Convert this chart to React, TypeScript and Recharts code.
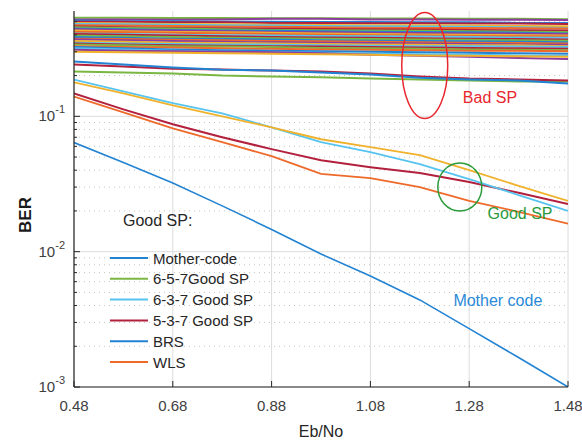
import React from 'react';
import {
  LineChart,
  Line,
  XAxis,
  YAxis,
  CartesianGrid,
  ReferenceLine,
  ReferenceDot,
  Legend,
} from 'recharts';

// ---------- data ----------
const ebNo = [0.48, 0.58, 0.68, 0.78, 0.88, 0.98, 1.08, 1.18, 1.28, 1.38, 1.48];
const xTicks = [0.48, 0.68, 0.88, 1.08, 1.28, 1.48];
const yMajorTicks = [0.001, 0.01, 0.1];
const yMinorTicks = [
  0.002, 0.003, 0.004, 0.005, 0.006, 0.007, 0.008, 0.009,
  0.02, 0.03, 0.04, 0.05, 0.06, 0.07, 0.08, 0.09,
  0.2, 0.3, 0.4, 0.5,
];

const motherCode = [0.064, 0.0455, 0.0322, 0.0218, 0.0146, 0.0096, 0.0066, 0.0044, 0.0027, 0.00165, 0.001];
const goodSp637 = [0.187, 0.153, 0.125, 0.105, 0.083, 0.0644, 0.0543, 0.0443, 0.0344, 0.0262, 0.02];
const goodSpYellow = [0.178, 0.1475, 0.1205, 0.1, 0.083, 0.0677, 0.0591, 0.0516, 0.0401, 0.0306, 0.0237];
const goodSp537 = [0.1475, 0.1125, 0.0873, 0.0701, 0.0572, 0.0474, 0.0421, 0.0381, 0.0327, 0.0272, 0.0225];
const wls = [0.14, 0.107, 0.0816, 0.0644, 0.0508, 0.0375, 0.035, 0.03, 0.0237, 0.0197, 0.0161];

const brs = [0.254, 0.241, 0.229, 0.221, 0.218, 0.211, 0.204, 0.193, 0.187, 0.184, 0.175];
const lowBandRed = [0.241, 0.233, 0.225, 0.222, 0.218, 0.214, 0.207, 0.197, 0.19, 0.187, 0.184];
const goodSp657 = [0.214, 0.211, 0.207, 0.2, 0.197, 0.194, 0.19, 0.187, 0.184, 0.181, 0.181];

const badSpCurves = [
  [0.535, 0.535, 0.533, 0.533, 0.53, 0.53, 0.528, 0.528, 0.525, 0.525, 0.522],
  [0.52, 0.52, 0.518, 0.52, 0.525, 0.525, 0.52, 0.52, 0.518, 0.518, 0.515],
  [0.51, 0.505, 0.505, 0.5, 0.5, 0.498, 0.498, 0.495, 0.495, 0.49, 0.49],
  [0.5, 0.5, 0.495, 0.495, 0.49, 0.49, 0.488, 0.488, 0.485, 0.485, 0.48],
  [0.49, 0.485, 0.48, 0.478, 0.475, 0.472, 0.47, 0.47, 0.468, 0.465, 0.462],
  [0.48, 0.478, 0.475, 0.47, 0.468, 0.465, 0.462, 0.46, 0.458, 0.455, 0.45],
  [0.47, 0.468, 0.465, 0.46, 0.458, 0.455, 0.452, 0.45, 0.45, 0.448, 0.445],
  [0.46, 0.455, 0.45, 0.448, 0.445, 0.442, 0.44, 0.438, 0.435, 0.432, 0.43],
  [0.455, 0.45, 0.445, 0.44, 0.435, 0.432, 0.43, 0.428, 0.425, 0.422, 0.42],
  [0.445, 0.44, 0.435, 0.43, 0.428, 0.425, 0.422, 0.42, 0.418, 0.415, 0.41],
  [0.44, 0.435, 0.43, 0.425, 0.42, 0.418, 0.415, 0.412, 0.41, 0.408, 0.405],
  [0.43, 0.425, 0.42, 0.418, 0.415, 0.41, 0.405, 0.402, 0.4, 0.398, 0.395],
  [0.42, 0.418, 0.415, 0.41, 0.405, 0.4, 0.398, 0.395, 0.392, 0.39, 0.388],
  [0.41, 0.405, 0.4, 0.398, 0.395, 0.392, 0.39, 0.388, 0.385, 0.382, 0.38],
  [0.405, 0.4, 0.395, 0.39, 0.385, 0.382, 0.38, 0.378, 0.375, 0.372, 0.37],
  [0.395, 0.39, 0.385, 0.38, 0.378, 0.375, 0.372, 0.37, 0.368, 0.365, 0.362],
  [0.385, 0.38, 0.375, 0.372, 0.37, 0.365, 0.362, 0.36, 0.358, 0.355, 0.352],
  [0.375, 0.372, 0.368, 0.365, 0.36, 0.358, 0.355, 0.352, 0.35, 0.348, 0.345],
  [0.37, 0.365, 0.36, 0.355, 0.352, 0.35, 0.348, 0.345, 0.342, 0.34, 0.338],
  [0.36, 0.355, 0.35, 0.348, 0.345, 0.342, 0.34, 0.338, 0.335, 0.335, 0.33],
  [0.35, 0.345, 0.342, 0.34, 0.338, 0.335, 0.332, 0.33, 0.33, 0.328, 0.325],
  [0.345, 0.34, 0.335, 0.332, 0.33, 0.328, 0.325, 0.322, 0.32, 0.318, 0.315],
  [0.34, 0.335, 0.33, 0.328, 0.325, 0.32, 0.318, 0.315, 0.312, 0.31, 0.308],
  [0.33, 0.325, 0.322, 0.318, 0.315, 0.312, 0.31, 0.308, 0.305, 0.305, 0.302],
  [0.325, 0.318, 0.312, 0.308, 0.305, 0.302, 0.3, 0.298, 0.295, 0.292, 0.29],
  [0.318, 0.312, 0.305, 0.3, 0.298, 0.295, 0.29, 0.288, 0.285, 0.282, 0.28],
  [0.31, 0.305, 0.302, 0.3, 0.298, 0.292, 0.285, 0.28, 0.275, 0.27, 0.265],
  [0.3, 0.298, 0.295, 0.292, 0.29, 0.288, 0.285, 0.282, 0.28, 0.278, 0.275],
];

// ---------- styles ----------
const BLUE = '#2283d3';
const ORANGE = '#ee6a2a';
const YELLOW = '#f0b22c';
const PURPLE = '#8d3d9e';
const GREEN = '#7ab642';
const LBLUE = '#57c4ef';
const DRED = '#b3203d';
const badColors = [
  GREEN, PURPLE, BLUE, DRED, YELLOW, LBLUE, ORANGE, DRED, GREEN, BLUE, PURPLE, YELLOW, ORANGE, LBLUE,
  DRED, GREEN, BLUE, ORANGE, PURPLE, YELLOW, LBLUE, DRED, GREEN, ORANGE, BLUE, LBLUE, PURPLE, YELLOW,
];

const AXIS = '#262626';
const TICK_TEXT = '#404040';
const FONT = '"Liberation Sans", Arial, sans-serif';

const rows = ebNo.map((x, i) => {
  const r: Record<string, number> = {
    x,
    mother: motherCode[i],
    g637: goodSp637[i],
    gy: goodSpYellow[i],
    g537: goodSp537[i],
    wls: wls[i],
    brs: brs[i],
    lowRed: lowBandRed[i],
    g657: goodSp657[i],
  };
  badSpCurves.forEach((c, k) => {
    r['bad' + k] = c[i];
  });
  return r;
});

const legendItems = [
  { name: 'Mother-code', color: BLUE },
  { name: '6-5-7Good SP', color: GREEN },
  { name: '6-3-7 Good SP', color: LBLUE },
  { name: '5-3-7 Good SP', color: DRED },
  { name: 'BRS', color: BLUE },
  { name: 'WLS', color: ORANGE },
];

// ---------- tick renderers ----------
const isMajor = (v: number) => yMajorTicks.some((m) => Math.abs(m - v) < 1e-9);

const LeftTick = (props: any) => {
  const { x, y, payload } = props;
  const v = payload.value;
  const major = isMajor(v);
  const ax = x + 9;
  const exp = Math.round(Math.log10(v));
  return (
    <g>
      <line x1={ax} x2={ax + (major ? 6 : 3)} y1={y} y2={y} stroke={AXIS} strokeWidth={1} />
      {major && (
        <text x={x} y={y + 5} textAnchor="end" fill={TICK_TEXT} fontSize={15} fontFamily={FONT}>
          10
          <tspan dy={-8} fontSize={11}>
            {String(exp)}
          </tspan>
        </text>
      )}
    </g>
  );
};

const RightTick = (props: any) => {
  const { x, y, payload } = props;
  const major = isMajor(payload.value);
  return <line x1={x} x2={x - (major ? 6 : 3)} y1={y} y2={y} stroke={AXIS} strokeWidth={1} />;
};

const BottomTick = (props: any) => {
  const { x, y, payload } = props;
  return (
    <g>
      <line x1={x} x2={x} y1={y} y2={y - 6} stroke={AXIS} strokeWidth={1} />
      <text x={x} y={y + 24} textAnchor="middle" fill={TICK_TEXT} fontSize={15} fontFamily={FONT}>
        {Number(payload.value).toFixed(2)}
      </text>
    </g>
  );
};

const TopTick = (props: any) => {
  const { x, y } = props;
  return <line x1={x} x2={x} y1={y} y2={y + 6} stroke={AXIS} strokeWidth={1} />;
};

const YLabel = (props: any) => {
  const vb = props.viewBox || { x: 0, y: 11, width: 74, height: 376 };
  const cx = vb.x + 25;
  const cy = vb.y + vb.height / 2 + 16;
  return (
    <text
      x={cx}
      y={cy}
      transform={`rotate(-90 ${cx} ${cy})`}
      textAnchor="middle"
      dominantBaseline="central"
      fontSize={17}
      fontWeight="bold"
      fill="#1a1a1a"
      fontFamily={FONT}
    >
      BER
    </text>
  );
};

const renderLegend = () => (
  <svg width={200} height={175} style={{ display: 'block', overflow: 'visible' }}>
    <text x={23} y={20} fontSize={16} dominantBaseline="central" fill="#262626" fontFamily={FONT}>
      Good SP:
    </text>
    {legendItems.map((it, i) => {
      const yy = 58 + i * 20.8;
      return (
        <g key={it.name}>
          <line x1={10} x2={48} y1={yy} y2={yy} stroke={it.color} strokeWidth={2} />
          <text x={53} y={yy} fontSize={15} dominantBaseline="central" fill="#262626" fontFamily={FONT}>
            {it.name}
          </text>
        </g>
      );
    })}
  </svg>
);

const ellipseShape = (rx: number, ry: number, color: string) => (p: any) => (
  <ellipse cx={p.cx} cy={p.cy} rx={rx} ry={ry} fill="none" stroke={color} strokeWidth={1.5} />
);
const textShape = (label: string, color: string) => (p: any) => (
  <text
    x={p.cx}
    y={p.cy}
    textAnchor="middle"
    dominantBaseline="central"
    fontSize={16}
    fill={color}
    fontFamily={FONT}
  >
    {label}
  </text>
);

export default function App() {
  return (
    <div style={{ position: 'absolute', left: 0, top: 0, width: 582, height: 441, background: '#fff', fontFamily: FONT }}>
      <LineChart width={582} height={441} data={rows} margin={{ top: 11, right: 14, bottom: 0, left: 0 }}>
        <CartesianGrid horizontal={false} vertical stroke="#dcdcdc" strokeWidth={1} />
        {yMinorTicks.map((v) => (
          <ReferenceLine key={'mn' + v} y={v} stroke="#c4c4c4" strokeDasharray="1 4" strokeWidth={1} />
        ))}
        {yMajorTicks.map((v) => (
          <ReferenceLine key={'mj' + v} y={v} stroke="#dcdcdc" strokeWidth={1} />
        ))}
        <XAxis
          dataKey="x"
          type="number"
          domain={[0.48, 1.48]}
          ticks={xTicks}
          allowDataOverflow
          height={54}
          tickSize={0}
          tickMargin={0}
          tick={<BottomTick />}
          axisLine={{ stroke: AXIS, strokeWidth: 1.2 }}
          label={{ value: 'Eb/No', position: 'insideBottom', offset: 4, fill: '#262626', fontSize: 16 }}
        />
        <XAxis
          xAxisId="top"
          orientation="top"
          type="number"
          domain={[0.48, 1.48]}
          ticks={xTicks}
          height={0}
          tickSize={0}
          tickMargin={0}
          tick={<TopTick />}
          axisLine={{ stroke: AXIS, strokeWidth: 1.2 }}
        />
        <YAxis
          scale="log"
          type="number"
          domain={[0.001, 0.6]}
          allowDataOverflow
          ticks={[...yMajorTicks, ...yMinorTicks]}
          interval={0}
          width={74}
          tickSize={0}
          tickMargin={9}
          tick={<LeftTick />}
          axisLine={{ stroke: AXIS, strokeWidth: 1.2 }}
          label={<YLabel />}
        />
        <YAxis
          yAxisId="right"
          orientation="right"
          scale="log"
          type="number"
          domain={[0.001, 0.6]}
          allowDataOverflow
          ticks={[...yMajorTicks, ...yMinorTicks]}
          interval={0}
          width={0}
          tickSize={0}
          tickMargin={0}
          tick={<RightTick />}
          axisLine={{ stroke: AXIS, strokeWidth: 1.2 }}
        />

        {badSpCurves.map((_, k) => (
          <Line
            key={'bad' + k}
            dataKey={'bad' + k}
            type="linear"
            stroke={badColors[k % badColors.length]}
            strokeWidth={2}
            dot={false}
            isAnimationActive={false}
            legendType="none"
          />
        ))}
        <Line dataKey="g657" stroke={GREEN} strokeWidth={2} dot={false} isAnimationActive={false} />
        <Line dataKey="lowRed" stroke={DRED} strokeWidth={2} dot={false} isAnimationActive={false} />
        <Line dataKey="brs" stroke={BLUE} strokeWidth={2} dot={false} isAnimationActive={false} />

        <Line dataKey="mother" stroke={BLUE} strokeWidth={1.6} dot={false} isAnimationActive={false} />
        <Line dataKey="wls" stroke={ORANGE} strokeWidth={1.8} dot={false} isAnimationActive={false} />
        <Line dataKey="g537" stroke={DRED} strokeWidth={2} dot={false} isAnimationActive={false} />
        <Line dataKey="g637" stroke={LBLUE} strokeWidth={1.8} dot={false} isAnimationActive={false} />
        <Line dataKey="gy" stroke={YELLOW} strokeWidth={1.8} dot={false} isAnimationActive={false} />

        <ReferenceDot x={1.19} y={0.237} r={0} ifOverflow="visible" shape={ellipseShape(23, 53, '#e8262e')} />
        <ReferenceDot x={1.322} y={0.138} r={0} ifOverflow="visible" shape={textShape('Bad SP', '#e8262e')} />
        <ReferenceDot x={1.261} y={0.03} r={0} ifOverflow="visible" shape={ellipseShape(22, 24, '#2a9a3a')} />
        <ReferenceDot x={1.383} y={0.019} r={0} ifOverflow="visible" shape={textShape('Good SP', '#2a9a3a')} />
        <ReferenceDot x={1.338} y={0.00436} r={0} ifOverflow="visible" shape={textShape('Mother code', '#2a8ad8')} />

        <Legend
          layout="vertical"
          align="center"
          verticalAlign="middle"
          content={renderLegend}
          wrapperStyle={{ position: 'absolute', left: 100, top: 200, width: 200, height: 175 }}
        />
      </LineChart>
    </div>
  );
}
